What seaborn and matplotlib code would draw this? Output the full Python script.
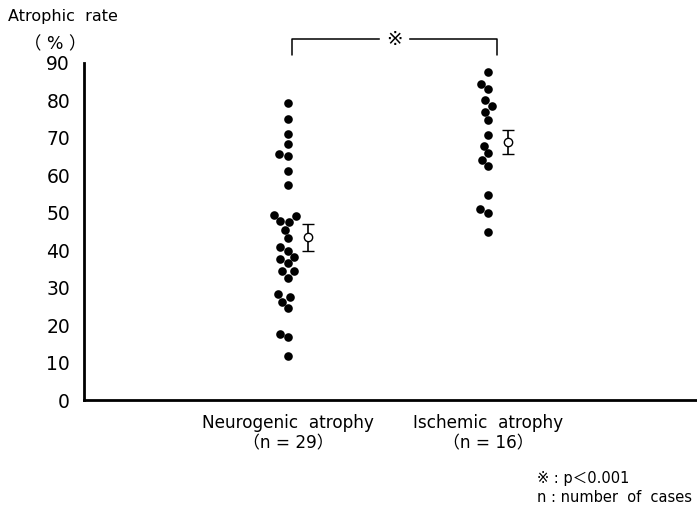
import matplotlib
matplotlib.use("Agg")
import matplotlib.pyplot as plt
import seaborn as sns
import pandas as pd

sns.set_theme(style="white")
plt.rcParams['font.family'] = ['DejaVu Sans', 'Noto Sans CJK JP']
plt.rcParams['text.color'] = 'black'

categories = ["Neurogenic  atrophy\n（n = 29）", "Ischemic  atrophy\n（n = 16）"]
neurogenic = [79.2, 75.0, 71.0, 68.4, 65.2, 65.6, 61.1, 57.4, 49.4, 49.1, 47.7, 47.5,
              45.4, 43.2, 40.8, 39.8, 38.1, 37.6, 36.5, 34.4, 34.4, 32.7, 28.3, 27.6,
              26.3, 24.5, 17.7, 16.9, 11.8]
ischemic = [87.5, 84.4, 83.0, 80.2, 78.6, 77.0, 74.8, 70.8, 67.9, 65.9, 64.1, 62.5,
            54.8, 51.0, 49.9, 44.9]
group_mean = [43.4, 69.0]
group_err = [3.6, 3.2]
yticks = [0, 10, 20, 30, 40, 50, 60, 70, 80, 90]

df = pd.DataFrame({
    "group": [categories[0]] * len(neurogenic) + [categories[1]] * len(ischemic),
    "rate": neurogenic + ischemic,
})

fig = plt.figure(figsize=(6.97, 5.08), dpi=100)
ax = fig.add_axes([84 / 697, 1 - 400 / 508, 1 - 84 / 697, (400 - 63) / 508])

sns.swarmplot(data=df, x="group", y="rate", order=categories, color="black",
              size=6.2, ax=ax, linewidth=0)

ax.errorbar([0.1, 1.1], group_mean, yerr=group_err, fmt="o", mfc="white",
            mec="black", ecolor="black", ms=6, mew=1.0, capsize=4.5,
            elinewidth=1.2, capthick=1.4, zorder=5)

ax.set_ylim(0, 90)
ax.set_xlim(-1.02, 2.045)
ax.set_yticks(yticks)
ax.set_yticklabels([str(t) for t in yticks], fontsize=13.5)
ax.set_xticks([0, 1])
ax.set_xticklabels(categories, fontsize=12.2, linespacing=1.2)
ax.set_xlabel("")
ax.set_ylabel("")
for s in ["top", "right"]:
    ax.spines[s].set_visible(False)
ax.spines["left"].set_linewidth(2.0)
ax.spines["bottom"].set_linewidth(2.0)
ax.spines["left"].set_color("black")
ax.spines["bottom"].set_color("black")
ax.tick_params(axis="y", direction="out", length=7, width=1.5, pad=3, colors="black")
ax.tick_params(axis="x", direction="out", length=6, width=1.5, pad=4, colors="black")

# significance bracket
ax.plot([0.02, 0.02, 1.045, 1.045], [92.1, 96.4, 96.4, 92.1], color="black",
        lw=1.1, clip_on=False)
ax.text(0.53, 96.4, "※", ha="center", va="center", fontsize=14, color="black",
        backgroundcolor="white", clip_on=False)

fig.text(8 / 697, 1 - 17 / 508, "Atrophic  rate", fontsize=11.5, va="center", ha="left", color="black")
fig.text(55 / 697, 1 - 44 / 508, "（ % ）", fontsize=12.5, va="center", ha="center", color="black")

fig.text(537 / 697, 1 - 478 / 508, "※ : p＜0.001", fontsize=10.5, va="center", ha="left", color="black")
fig.text(537 / 697, 1 - 497 / 508, "n : number  of  cases", fontsize=10.5, va="center", ha="left", color="black")

fig.savefig("out.png", dpi=100)
